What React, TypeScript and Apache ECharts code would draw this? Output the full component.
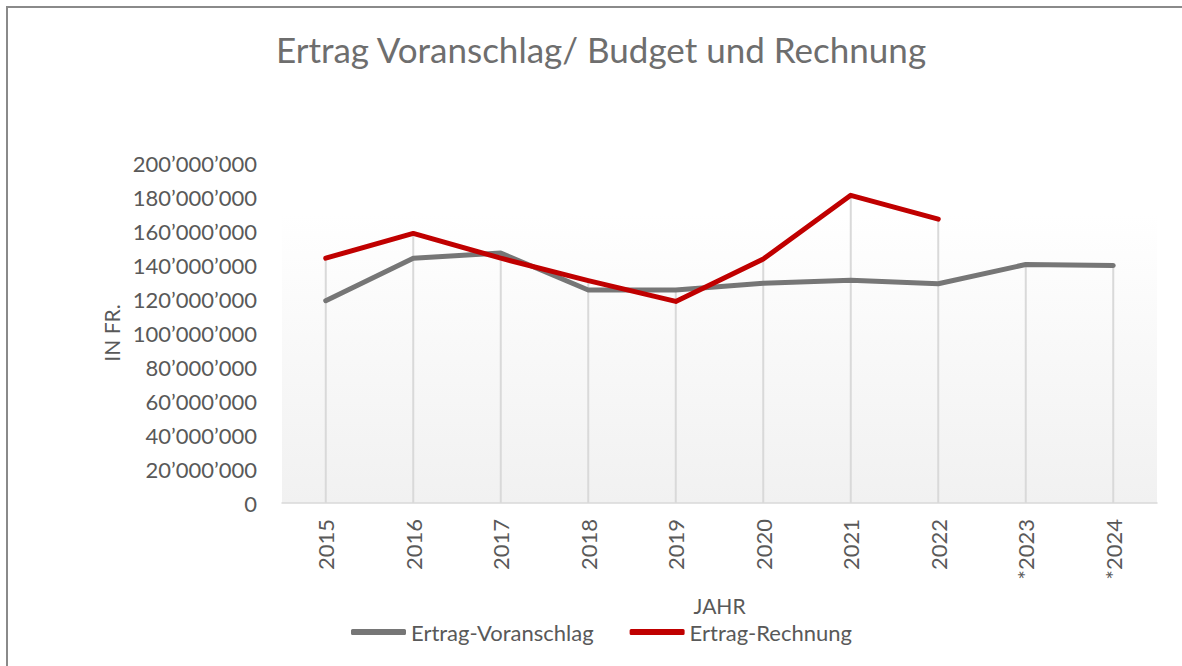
import React, { useEffect, useRef } from "react";
import * as echarts from "echarts";

const years = ["2015", "2016", "2017", "2018", "2019", "2020", "2021", "2022", "*2023", "*2024"];
const budget = [119, 144, 147, 125.3, 125.3, 129.2, 131, 129, 140.3, 139.7].map((v) => v * 1e6);
const actual: (number | null)[] = [144, 158.6, 144, 130.8, 118.6, 143.5, 181, 167, null, null].map((v) =>
  v === null ? null : v * 1e6
);
const yTicks = { min: 0, max: 200e6, interval: 20e6 };

const dropLines = years.map((_, i) => Math.max(budget[i], actual[i] ?? 0));

const fmt = (v: number) => {
  const s = Math.round(v).toString();
  return s.replace(/\B(?=(\d{3})+(?!\d))/g, "\u2019");
};

const FONT = "Lato";
const TXT = "#595959";

export default function App() {
  const ref = useRef<HTMLDivElement>(null);
  useEffect(() => {
    if (!ref.current) return;
    const chart = echarts.init(ref.current, null, { renderer: "svg" });
    chart.setOption({
      animation: false,
      backgroundColor: "#ffffff",
      textStyle: { fontFamily: FONT },
      title: {
        text: "Ertrag Voranschlag/ Budget und Rechnung",
        left: 596,
        textAlign: "center",
        top: 26,
        textStyle: { fontFamily: FONT, fontSize: 35, fontWeight: "normal", color: "#6e6e6e" },
      },
      graphic: [
        {
          type: "rect",
          shape: { x: 7, y: 7, width: 1300, height: 800 },
          style: { fill: "none", stroke: "#8a8a8a", lineWidth: 2 },
          silent: true,
        },
      ],
      legend: {
        data: ["Ertrag-Voranschlag", "Ertrag-Rechnung"],
        left: 346,
        top: 616,
        icon: "roundRect",
        itemWidth: 55,
        itemHeight: 6,
        itemGap: 36,
        textStyle: { fontFamily: FONT, fontSize: 22, color: TXT },
      },
      grid: {
        left: 282,
        right: 25,
        top: 163,
        bottom: 163,
        show: true,
        borderWidth: 0,
        backgroundColor: new echarts.graphic.LinearGradient(0, 0, 0, 1, [
          { offset: 0, color: "#ffffff" },
          { offset: 0.15, color: "#ffffff" },
          { offset: 1, color: "#f1f1f1" },
        ]),
      },
      xAxis: {
        type: "category",
        data: years,
        boundaryGap: true,
        name: "JAHR",
        nameLocation: "middle",
        nameGap: 92,
        nameTextStyle: { fontFamily: FONT, fontSize: 21, color: TXT },
        axisTick: { show: false },
        axisLine: { lineStyle: { color: "#d9d9d9", width: 1.5 } },
        axisLabel: { rotate: 90, margin: 16, fontFamily: FONT, fontSize: 22, color: TXT },
        splitLine: { show: false },
      },
      yAxis: {
        type: "value",
        min: yTicks.min,
        max: yTicks.max,
        interval: yTicks.interval,
        name: "IN FR.",
        nameLocation: "middle",
        nameRotate: 90,
        nameGap: 160,
        nameTextStyle: { fontFamily: FONT, fontSize: 21, color: TXT },
        axisLine: { show: false },
        axisTick: { show: false },
        splitLine: { show: false },
        axisLabel: { margin: 25, fontFamily: FONT, fontSize: 22, color: TXT, formatter: (v: number) => fmt(v) },
      },
      series: [
        {
          name: "drop",
          type: "bar",
          data: dropLines,
          barWidth: 2,
          itemStyle: { color: "#d9d9d9" },
          silent: true,
          z: 1,
        },
        {
          name: "Ertrag-Voranschlag",
          type: "line",
          data: budget,
          showSymbol: false,
          symbol: "none",
          itemStyle: { color: "#767676" },
          lineStyle: { color: "#767676", width: 5, cap: "round", join: "round" },
          z: 3,
        },
        {
          name: "Ertrag-Rechnung",
          type: "line",
          data: actual,
          showSymbol: false,
          symbol: "none",
          itemStyle: { color: "#c00000" },
          lineStyle: { color: "#c00000", width: 5, cap: "round", join: "round" },
          z: 4,
        },
      ],
    });
    return () => chart.dispose();
  }, []);
  return <div ref={ref} style={{ position: "fixed", left: 0, top: 0, width: 1182, height: 666 }} />;
}
